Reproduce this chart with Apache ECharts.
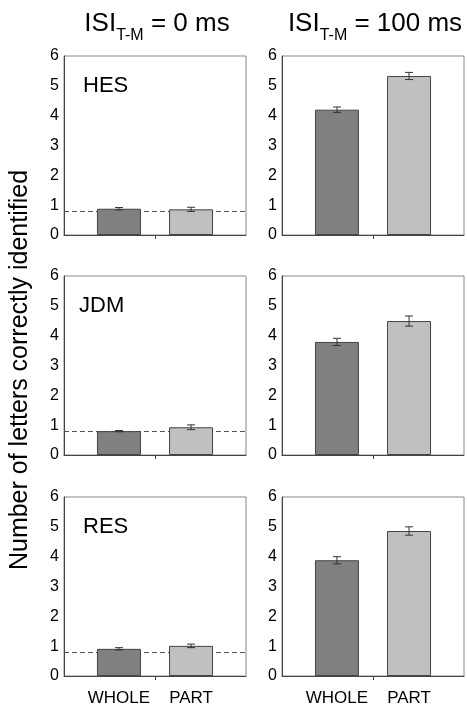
<!DOCTYPE html>
<html>
<head>
<meta charset="utf-8">
<script src="https://cdn.jsdelivr.net/npm/echarts@6/dist/echarts.min.js"></script>
<style>
html, body { margin: 0; padding: 0; background: #fff; }
#main { width: 467px; height: 709px; }
</style>
</head>
<body>
<div id="main"></div>
<script>
var conditions = ['WHOLE', 'PART'];
var subjects = ['HES', 'JDM', 'RES'];
var isiLabels = ['0 ms', '100 ms'];
// letters correct per subject: [whole, part]
var isi0Means = [[0.88, 0.86], [0.80, 0.93], [0.91, 1.01]];
var isi0Errs = [[0.04, 0.07], [0.02, 0.08], [0.04, 0.06]];
var isi100Means = [[4.20, 5.33], [3.79, 4.49], [3.88, 4.86]];
var isi100Errs = [[0.09, 0.12], [0.12, 0.17], [0.12, 0.14]];
var chanceLevel = 0.8;
var yMin = 0, yMax = 6, yStep = 1;

var FONT = "'Liberation Sans', Arial, sans-serif";
var colLeft = [64, 282];
var rowTop = [56, 276, 497];
var plotW = 182, plotH = 179;
var BAR_W = 44, BAR_GAP = -0.57;
var barShift = BAR_W * (1 + BAR_GAP) / 2;
var wholeColor = '#808080', partColor = '#c0c0c0';
var axisColor = '#444';

function errRender(params, api) {
    var ci = api.value(0);
    var mean = api.value(1), err = api.value(2);
    var x = api.coord([ci, mean])[0] + (ci === 0 ? barShift : -barShift);
    var hi = api.coord([ci, mean + err])[1];
    var lo = api.coord([ci, mean - err])[1];
    var cap = 4;
    var st = { stroke: '#333', lineWidth: 1 };
    return {
        type: 'group',
        children: [
            { type: 'line', shape: { x1: x, y1: hi, x2: x, y2: lo }, style: st },
            { type: 'line', shape: { x1: x - cap, y1: hi, x2: x + cap, y2: hi }, style: st },
            { type: 'line', shape: { x1: x - cap, y1: lo, x2: x + cap, y2: lo }, style: st }
        ]
    };
}

var grids = [], xAxes = [], yAxes = [], series = [], graphics = [];
var labelDx = [19, 15, 19];

for (var r = 0; r < subjects.length; r++) {
    for (var c = 0; c < 2; c++) {
        var gi = grids.length;
        var means = c === 0 ? isi0Means[r] : isi100Means[r];
        var errs = c === 0 ? isi0Errs[r] : isi100Errs[r];
        grids.push({
            left: colLeft[c], top: rowTop[r], width: plotW, height: plotH,
            show: true, borderColor: '#888', borderWidth: 1
        });
        xAxes.push({
            gridIndex: gi, type: 'category', data: conditions,
            axisLine: { lineStyle: { color: axisColor } },
            axisTick: { show: false },
            axisLabel: {
                show: r === subjects.length - 1,
                margin: 14,
                formatter: function (v) { return v === 'WHOLE' ? '{w|' + v + '}' : '{p|' + v + '}'; },
                rich: {
                    w: { fontSize: 17, fontFamily: FONT, color: '#000', padding: [0, 0, 0, 2 * barShift] },
                    p: { fontSize: 17, fontFamily: FONT, color: '#000', padding: [0, 2 * barShift, 0, 0] }
                }
            }
        });
        // second axis only for the single centre tick
        xAxes.push({
            gridIndex: gi, type: 'value', position: 'bottom', min: 0, max: 2,
            axisLine: { show: false }, axisLabel: { show: false }, splitLine: { show: false },
            axisTick: { show: true, customValues: [1], length: 4, lineStyle: { color: axisColor } }
        });
        yAxes.push({
            gridIndex: gi, type: 'value', min: yMin, max: yMax, interval: yStep,
            axisLine: { show: true, lineStyle: { color: axisColor } },
            axisTick: { show: false },
            splitLine: { show: false },
            axisLabel: { fontSize: 16, fontFamily: FONT, color: '#000', margin: 5 }
        });
        var partSer = {
            type: 'bar', xAxisIndex: 2 * gi, yAxisIndex: gi,
            data: ['-', means[1]], barWidth: BAR_W, barGap: (BAR_GAP * 100) + '%',
            itemStyle: { color: partColor, borderColor: axisColor, borderWidth: 1 },
            z: 2
        };
        var wholeSer = {
            type: 'bar', xAxisIndex: 2 * gi, yAxisIndex: gi,
            data: [means[0], '-'], barWidth: BAR_W, barGap: (BAR_GAP * 100) + '%',
            itemStyle: { color: wholeColor, borderColor: axisColor, borderWidth: 1 },
            z: 2
        };
        if (c === 0) {
            wholeSer.markLine = {
                silent: true, symbol: 'none', z: 1,
                label: { show: false },
                lineStyle: { type: [5, 3], color: '#555', width: 1 },
                data: [{ yAxis: chanceLevel }]
            };
        }
        series.push(partSer, wholeSer);
        series.push({
            type: 'custom', xAxisIndex: 2 * gi, yAxisIndex: gi,
            renderItem: errRender, z: 3,
            encode: { x: 0, y: 1 },
            data: [[0, means[0], errs[0]], [1, means[1], errs[1]]]
        });
        if (c === 0) {
            graphics.push({
                type: 'text', x: colLeft[c] + labelDx[r], y: rowTop[r] + 19,
                style: { text: subjects[r], fontSize: 22, fontFamily: FONT, fill: '#000', verticalAlign: 'top' }
            });
        }
    }
}

graphics.push({
    type: 'text', x: 20, y: 370, rotation: Math.PI / 2,
    style: {
        text: 'Number of letters correctly identified', fontSize: 25, fontFamily: FONT,
        fill: '#000', align: 'center', verticalAlign: 'middle'
    }
});

var titles = isiLabels.map(function (lab, c) {
    return {
        text: '{a|ISI}{b|T-M}{a| = ' + lab + '}',
        left: colLeft[c] + plotW / 2 + 2,
        top: 11,
        textAlign: 'center',
        padding: 0,
        textStyle: {
            fontWeight: 'normal',
            rich: {
                a: { fontSize: 26, lineHeight: 26, fontWeight: 'normal', fontFamily: FONT, color: '#000', verticalAlign: 'top' },
                b: { fontSize: 16, lineHeight: 16, fontWeight: 'normal', fontFamily: FONT, color: '#000', verticalAlign: 'top', padding: [17, 0, 0, 0] }
            }
        }
    };
});

var chart = echarts.init(document.getElementById('main'));
chart.setOption({
    animation: false,
    backgroundColor: '#fff',
    title: titles,
    grid: grids,
    xAxis: xAxes,
    yAxis: yAxes,
    series: series,
    graphic: graphics
});
</script>
</body>
</html>
